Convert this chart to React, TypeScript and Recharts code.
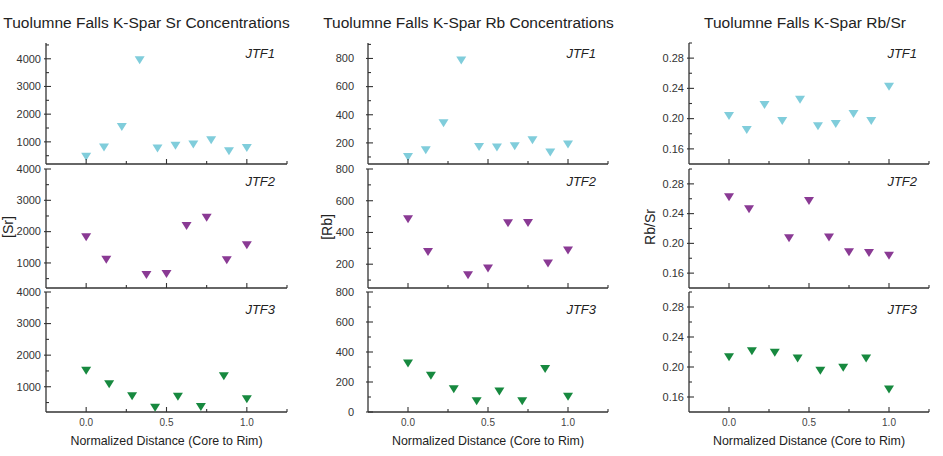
import React from 'react';
import { ScatterChart, Scatter, XAxis, YAxis } from 'recharts';

const CYAN = '#80cddb';
const PURPLE = '#8a3a94';
const GREEN = '#17893f';
const AXIS = '#333333';
const FONT = '"Liberation Sans", Arial, sans-serif';

// x positions (normalized distance, core to rim)
const xJTF1 = [0, 0.111, 0.222, 0.333, 0.444, 0.556, 0.667, 0.778, 0.889, 1.0];
const xJTF2 = [0, 0.125, 0.375, 0.5, 0.625, 0.75, 0.875, 1.0];
const xJTF3 = [0, 0.143, 0.286, 0.429, 0.571, 0.714, 0.857, 1.0];

// Sr concentrations
const srJTF1 = [460, 800, 1540, 3950, 760, 860, 900, 1060, 660, 780];
const srJTF2 = [1820, 1100, 615, 650, 2180, 2440, 1090, 1565];
const srJTF3 = [1505, 1080, 695, 335, 685, 355, 1335, 600];

// Rb concentrations
const rbJTF1 = [100, 148, 339, 786, 171, 167, 176, 219, 131, 189];
const rbJTF2 = [483, 277, 131, 173, 458, 460, 204, 287];
const rbJTF3 = [323, 241, 152, 72, 136, 72, 286, 102];

// Rb/Sr
const ratioJTF1 = [0.2035, 0.185, 0.218, 0.197, 0.225, 0.19, 0.193, 0.206, 0.197, 0.242];
const ratioJTF2 = [0.262, 0.246, 0.207, 0.257, 0.208, 0.188, 0.187, 0.1835];
const ratioJTF3 = [0.213, 0.221, 0.219, 0.2115, 0.195, 0.199, 0.2115, 0.17];

// ticks
const xTicks = [0, 0.25, 0.5, 0.75, 1.0, 1.25];
const xMajor = [0, 0.5, 1.0];
const srMajor = [1000, 2000, 3000, 4000];
const srMinor = [500, 1500, 2500, 3500, 4500];
const rbMajor = [0, 200, 400, 600, 800];
const rbMinor = [100, 300, 500, 700, 900];
const ratioMajor = [0.16, 0.2, 0.24, 0.28];
const ratioMinor = [0.18, 0.22, 0.26, 0.3];

const titles = [
  'Tuolumne Falls K-Spar Sr Concentrations',
  'Tuolumne Falls K-Spar Rb Concentrations',
  'Tuolumne Falls K-Spar Rb/Sr',
];
const yLabels = ['[Sr]', '[Rb]', 'Rb/Sr'];
const sampleNames = ['JTF1', 'JTF2', 'JTF3'];
const xLabel = 'Normalized Distance (Core to Rim)';

const cols = [
  { left: 46, right: 287, gap: 5, titleX: 146.5, yLabelX: 8 },
  { left: 368, right: 608, gap: 14, titleX: 468.5, yLabelX: 327 },
  { left: 689, right: 929, gap: 5, titleX: 805, yLabelX: 650 },
];
const rows = [
  { top: 43, bottom: 164, jtfY: 57.5 },
  { top: 169, bottom: 288, jtfY: 186 },
  { top: 292, bottom: 412, jtfY: 313.5 },
];

const colors = [CYAN, PURPLE, GREEN];
const xsByRow = [xJTF1, xJTF2, xJTF3];
const valuesByCol = [
  [srJTF1, srJTF2, srJTF3],
  [rbJTF1, rbJTF2, rbJTF3],
  [ratioJTF1, ratioJTF2, ratioJTF3],
];
const domains = [
  [[200, 4570], [200, 4000], [200, 4000]],
  [[50, 910], [50, 800], [0, 800]],
  [[0.14, 0.3], [0.14, 0.3], [0.14, 0.3]],
];
const majorsByCol = [srMajor, rbMajor, ratioMajor];
const minorsByCol = [srMinor, rbMinor, ratioMinor];
const fmts = [
  (v: number) => String(Math.round(v)),
  (v: number) => String(Math.round(v)),
  (v: number) => v.toFixed(2),
];

const near = (a: number, b: number) => Math.abs(a - b) < 1e-9;

const Tri = (props: any) => {
  const { cx, cy, fill } = props;
  if (cx == null || cy == null) return null;
  return <path d={`M${cx - 5},${cy - 4}L${cx + 5},${cy - 4}L${cx},${cy + 4}Z`} fill={fill} />;
};

const XTick = (props: any) => {
  const { x, y, payload, showLabel } = props;
  const v = payload.value;
  const major = xMajor.some((m) => near(m, v));
  const len = major ? 5 : 3;
  return (
    <g>
      <line x1={x} x2={x} y1={y} y2={y - len} stroke={AXIS} strokeWidth={1.1} />
      {showLabel && major && (
        <text x={x} y={y + 14} textAnchor="middle" fontSize={10} fill="#444" fontFamily={FONT}>
          {v.toFixed(1)}
        </text>
      )}
    </g>
  );
};

const YTick = (props: any) => {
  const { x, y, payload, majors, fmt, gap } = props;
  const v = payload.value;
  const major = majors.some((m: number) => near(m, v));
  return (
    <g>
      <line x1={x - (major ? 2 : 0)} x2={x + (major ? 5 : 3)} y1={y} y2={y} stroke={AXIS} strokeWidth={1.1} />
      {major && (
        <text x={x - gap} y={y} dy="0.35em" textAnchor="end" fontSize={11} fill="#333" fontFamily={FONT}>
          {fmt(v)}
        </text>
      )}
    </g>
  );
};

const YW = 45;
const XH = 30;
const TOP = 8;

const Panel = ({ ci, ri }: { ci: number; ri: number }) => {
  const c = cols[ci];
  const r = rows[ri];
  const domain = domains[ci][ri];
  const ys = valuesByCol[ci][ri];
  const data = xsByRow[ri].map((x, i) => ({ x, y: ys[i] }));
  const ticks = [...majorsByCol[ci], ...minorsByCol[ci]]
    .filter((t) => t >= domain[0] - 1e-9 && t <= domain[1] + 1e-9)
    .sort((a, b) => a - b);
  const w = YW + (c.right - c.left) + 4;
  const h = TOP + (r.bottom - r.top) + XH;
  return (
    <div style={{ position: 'absolute', left: c.left - YW, top: r.top - TOP, width: w, height: h }}>
      <ScatterChart width={w} height={h} margin={{ top: TOP, right: 4, bottom: 0, left: 0 }}>
        <XAxis
          type="number"
          dataKey="x"
          domain={[-0.25, 1.25]}
          ticks={xTicks}
          interval={0}
          height={XH}
          tickSize={0}
          tickMargin={0}
          tickLine={false}
          axisLine={{ stroke: AXIS, strokeWidth: 1.3 }}
          allowDataOverflow
          tick={(p: any) => <XTick {...p} showLabel={ri === 2} />}
        />
        <YAxis
          type="number"
          dataKey="y"
          domain={domain}
          ticks={ticks}
          interval={0}
          width={YW}
          tickSize={0}
          tickMargin={0}
          tickLine={false}
          axisLine={{ stroke: AXIS, strokeWidth: 1.3 }}
          allowDataOverflow
          tick={(p: any) => <YTick {...p} majors={majorsByCol[ci]} fmt={fmts[ci]} gap={c.gap} />}
        />
        <Scatter data={data} fill={colors[ri]} shape={<Tri />} isAnimationActive={false} />
      </ScatterChart>
    </div>
  );
};

export default function App() {
  const panels: React.ReactNode[] = [];
  for (let ci = 0; ci < 3; ci++) {
    for (let ri = 0; ri < 3; ri++) {
      panels.push(<Panel key={`${ci}-${ri}`} ci={ci} ri={ri} />);
    }
  }
  return (
    <div style={{ position: 'absolute', left: 0, top: 0, width: 943, height: 456, background: '#fff', overflow: 'hidden' }}>
      {panels}
      <svg
        width={943}
        height={456}
        style={{ position: 'absolute', left: 0, top: 0, pointerEvents: 'none' }}
        fontFamily={FONT}
      >
        {cols.map((c, ci) => (
          <g key={ci}>
            <text x={c.titleX} y={27.5} textAnchor="middle" fontSize={15.5} fill="#222">
              {titles[ci]}
            </text>
            <text
              x={c.yLabelX}
              y={227}
              textAnchor="middle"
              dominantBaseline="central"
              fontSize={14}
              fill="#222"
              transform={`rotate(-90 ${c.yLabelX} 227)`}
            >
              {yLabels[ci]}
            </text>
            <text x={(c.left + c.right) / 2} y={445} textAnchor="middle" fontSize={12.4} fill="#222">
              {xLabel}
            </text>
            {rows.map((r, ri) => (
              <text
                key={ri}
                x={c.right - 12}
                y={r.jtfY}
                textAnchor="end"
                fontSize={13}
                fontStyle="italic"
                fill="#222"
              >
                {sampleNames[ri]}
              </text>
            ))}
          </g>
        ))}
      </svg>
    </div>
  );
}
